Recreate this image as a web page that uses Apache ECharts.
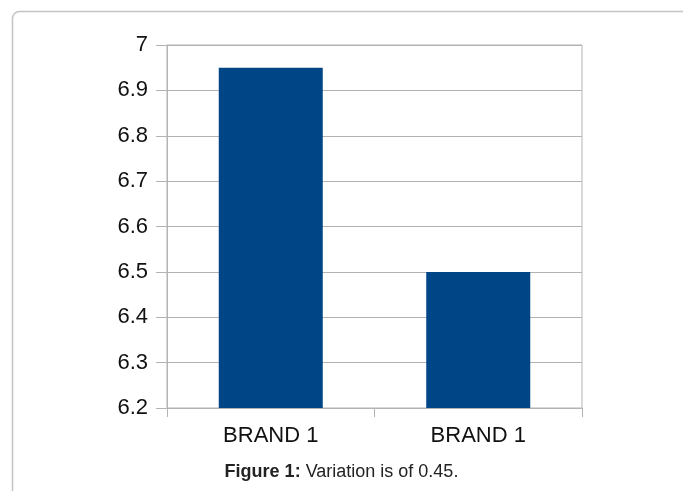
<!DOCTYPE html>
<html>
<head>
<meta charset="utf-8">
<script src="https://cdn.jsdelivr.net/npm/echarts@6/dist/echarts.min.js"></script>
<style>
  html, body { margin: 0; padding: 0; background: #fff; }
  #chart { width: 683px; height: 491px; }
</style>
</head>
<body>
<div id="chart"></div>
<script>
// values
let categories = ['BRAND 1', 'BRAND 1'];
let values = [6.95, 6.5];

let chart = echarts.init(document.getElementById('chart'));
let option = {
    animation: false,
    title: {
        text: '{b|Figure 1:} Variation is of 0.45.',
        left: 'center',
        top: 458,
        textStyle: {
            fontFamily: 'Liberation Sans',
            fontSize: 18,
            fontWeight: 'normal',
            color: '#222',
            rich: {
                b: { fontFamily: 'Liberation Sans', fontSize: 18, fontWeight: 'bold', color: '#222' }
            }
        }
    },
    graphic: [{
        type: 'rect',
        shape: { x: 12.5, y: 11.5, width: 720, height: 520, r: 7 },
        style: { fill: 'none', stroke: '#c4c4c4', lineWidth: 1.5 },
        silent: true
    }],
    grid: {
        left: 167,
        top: 45,
        right: 101,
        bottom: 83,
        show: true,
        borderColor: '#b3b3b3',
        borderWidth: 1
    },
    xAxis: {
        type: 'category',
        data: categories,
        axisLine: { lineStyle: { color: '#b3b3b3' } },
        axisTick: { show: true, length: 9, lineStyle: { color: '#b3b3b3' } },
        axisLabel: {
            color: '#111',
            fontFamily: 'Liberation Sans',
            fontSize: 22,
            margin: 17
        }
    },
    yAxis: {
        type: 'value',
        min: 6.2,
        max: 7,
        interval: 0.1,
        axisLine: { show: true, lineStyle: { color: '#b3b3b3' } },
        axisTick: { show: true, length: 11, lineStyle: { color: '#b3b3b3' } },
        splitLine: { lineStyle: { color: '#b3b3b3' } },
        axisLabel: {
            color: '#111',
            fontFamily: 'Liberation Sans',
            fontSize: 22,
            margin: 19,
            formatter: function (v) { return String(Math.round(v * 10) / 10); }
        }
    },
    series: [{
        type: 'bar',
        data: values,
        barWidth: 104,
        itemStyle: { color: '#004586' }
    }]
};
chart.setOption(option);
</script>
</body>
</html>
